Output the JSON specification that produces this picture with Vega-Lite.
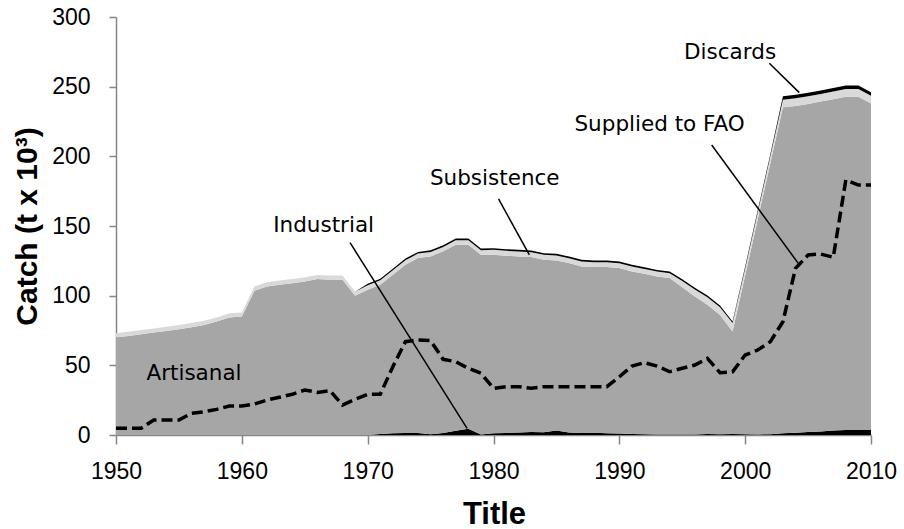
{
  "$schema": "https://vega.github.io/schema/vega-lite/v6.json",
  "width": 755,
  "height": 418,
  "autosize": {"type": "none"},
  "padding": {"left": 116, "top": 17, "right": 33, "bottom": 94},
  "background": "white",
  "config": {"view": {"stroke": null}, "font": "Liberation Sans"},
  "datasets": {
    "catch": [
      {"year": 1950, "c1": 0, "c2": 70.1, "c3": 3, "c4": 0, "fao": 4.8},
      {"year": 1951, "c1": 0, "c2": 71.1, "c3": 3, "c4": 0, "fao": 4.8},
      {"year": 1952, "c1": 0, "c2": 72.3, "c3": 3, "c4": 0, "fao": 4.8},
      {"year": 1953, "c1": 0, "c2": 73.5, "c3": 3, "c4": 0, "fao": 10.8},
      {"year": 1954, "c1": 0, "c2": 74.7, "c3": 3, "c4": 0, "fao": 10.8},
      {"year": 1955, "c1": 0, "c2": 75.9, "c3": 3, "c4": 0, "fao": 10.8},
      {"year": 1956, "c1": 0, "c2": 77.3, "c3": 3, "c4": 0, "fao": 15.6},
      {"year": 1957, "c1": 0, "c2": 79.0, "c3": 3, "c4": 0, "fao": 16.7},
      {"year": 1958, "c1": 0, "c2": 81.4, "c3": 3, "c4": 0, "fao": 18.4},
      {"year": 1959, "c1": 0, "c2": 84.3, "c3": 3, "c4": 0, "fao": 20.8},
      {"year": 1960, "c1": 0, "c2": 85.0, "c3": 3, "c4": 0, "fao": 20.8},
      {"year": 1961, "c1": 0, "c2": 103.5, "c3": 3, "c4": 0, "fao": 22.2},
      {"year": 1962, "c1": 0, "c2": 106.6, "c3": 3, "c4": 0, "fao": 25.1},
      {"year": 1963, "c1": 0, "c2": 107.8, "c3": 3, "c4": 0, "fao": 27.1},
      {"year": 1964, "c1": 0, "c2": 109.0, "c3": 3, "c4": 0, "fao": 29.2},
      {"year": 1965, "c1": 0, "c2": 110.2, "c3": 3, "c4": 0, "fao": 32.3},
      {"year": 1966, "c1": 0, "c2": 111.9, "c3": 3, "c4": 0, "fao": 30.6},
      {"year": 1967, "c1": 0, "c2": 111.4, "c3": 3, "c4": 0, "fao": 31.8},
      {"year": 1968, "c1": 0, "c2": 111.4, "c3": 3, "c4": 0, "fao": 21.5},
      {"year": 1969, "c1": 0, "c2": 99.9, "c3": 3, "c4": 0, "fao": 25.6},
      {"year": 1970, "c1": 0, "c2": 104.2, "c3": 3.2, "c4": 1.2, "fao": 29.2},
      {"year": 1971, "c1": 0.8, "c2": 107.0, "c3": 3.2, "c4": 1.2, "fao": 29.2},
      {"year": 1972, "c1": 1.3, "c2": 113.7, "c3": 3.2, "c4": 1.2, "fao": 49.0},
      {"year": 1973, "c1": 1.5, "c2": 120.7, "c3": 3.2, "c4": 1.2, "fao": 67.0},
      {"year": 1974, "c1": 1.5, "c2": 125.5, "c3": 3.2, "c4": 1.2, "fao": 68.2},
      {"year": 1975, "c1": 0.6, "c2": 127.6, "c3": 3.2, "c4": 1.2, "fao": 67.7},
      {"year": 1976, "c1": 1.5, "c2": 130.3, "c3": 3.2, "c4": 1.2, "fao": 54.3},
      {"year": 1977, "c1": 3.0, "c2": 133.6, "c3": 3.2, "c4": 1.2, "fao": 52.6},
      {"year": 1978, "c1": 4.5, "c2": 132.1, "c3": 3.2, "c4": 1.2, "fao": 47.9},
      {"year": 1979, "c1": 0.3, "c2": 129.1, "c3": 3.2, "c4": 1.2, "fao": 44.3},
      {"year": 1980, "c1": 1.2, "c2": 128.2, "c3": 3.5, "c4": 1.2, "fao": 33.5},
      {"year": 1981, "c1": 1.5, "c2": 127.2, "c3": 3.5, "c4": 1.2, "fao": 34.7},
      {"year": 1982, "c1": 1.8, "c2": 126.4, "c3": 3.5, "c4": 1.2, "fao": 34.7},
      {"year": 1983, "c1": 2.2, "c2": 125.5, "c3": 3.5, "c4": 1.2, "fao": 33.5},
      {"year": 1984, "c1": 2.0, "c2": 123.8, "c3": 3.5, "c4": 1.2, "fao": 34.7},
      {"year": 1985, "c1": 3.2, "c2": 122.1, "c3": 3.5, "c4": 1.2, "fao": 34.7},
      {"year": 1986, "c1": 1.8, "c2": 121.6, "c3": 3.5, "c4": 1.2, "fao": 34.7},
      {"year": 1987, "c1": 1.5, "c2": 119.5, "c3": 3.5, "c4": 1.2, "fao": 34.7},
      {"year": 1988, "c1": 1.6, "c2": 118.9, "c3": 3.5, "c4": 1.2, "fao": 34.7},
      {"year": 1989, "c1": 1.2, "c2": 119.3, "c3": 3.5, "c4": 1.2, "fao": 34.7},
      {"year": 1990, "c1": 1.0, "c2": 118.8, "c3": 3.5, "c4": 1.2, "fao": 41.8},
      {"year": 1991, "c1": 0.7, "c2": 116.7, "c3": 3.5, "c4": 1.2, "fao": 49.5},
      {"year": 1992, "c1": 0.5, "c2": 115.2, "c3": 3.5, "c4": 1.2, "fao": 51.9},
      {"year": 1993, "c1": 0.4, "c2": 113.4, "c3": 3.5, "c4": 1.2, "fao": 49.5},
      {"year": 1994, "c1": 0.3, "c2": 112.3, "c3": 3.5, "c4": 1.2, "fao": 45.4},
      {"year": 1995, "c1": 0.3, "c2": 105.8, "c3": 4.5, "c4": 1.2, "fao": 47.9},
      {"year": 1996, "c1": 0.4, "c2": 99.0, "c3": 5.0, "c4": 1.2, "fao": 50.2},
      {"year": 1997, "c1": 0.8, "c2": 92.6, "c3": 5.5, "c4": 1.2, "fao": 55.0},
      {"year": 1998, "c1": 0.6, "c2": 85.6, "c3": 5.5, "c4": 1.2, "fao": 44.7},
      {"year": 1999, "c1": 0.8, "c2": 73.5, "c3": 6.0, "c4": 1.2, "fao": 45.4},
      {"year": 2000, "c1": 0.5, "c2": 114.0, "c3": 5.0, "c4": 1.5, "fao": 57.4},
      {"year": 2001, "c1": 0.4, "c2": 154.4, "c3": 5.0, "c4": 1.5, "fao": 61.0},
      {"year": 2002, "c1": 0.6, "c2": 194.4, "c3": 5.0, "c4": 1.5, "fao": 67.0},
      {"year": 2003, "c1": 1.2, "c2": 234.0, "c3": 5.5, "c4": 2.5, "fao": 81.3},
      {"year": 2004, "c1": 1.6, "c2": 234.6, "c3": 5.5, "c4": 2.5, "fao": 119.6},
      {"year": 2005, "c1": 2.2, "c2": 235.4, "c3": 5.5, "c4": 2.5, "fao": 129.2},
      {"year": 2006, "c1": 2.6, "c2": 236.7, "c3": 5.5, "c4": 2.5, "fao": 129.9},
      {"year": 2007, "c1": 3.2, "c2": 237.8, "c3": 5.5, "c4": 2.5, "fao": 127.5},
      {"year": 2008, "c1": 3.6, "c2": 239.2, "c3": 5.5, "c4": 2.5, "fao": 183.0},
      {"year": 2009, "c1": 3.6, "c2": 239.2, "c3": 5.5, "c4": 2.5, "fao": 179.4},
      {"year": 2010, "c1": 3.6, "c2": 234.4, "c3": 5.5, "c4": 2.5, "fao": 179.4}
    ],
    "labels": [
      {"label": "Artisanal", "tx": 1956.2, "ty": 39.5},
      {"label": "Industrial", "tx": 1966.5, "ty": 145.9},
      {"label": "Subsistence", "tx": 1980.1, "ty": 179.4},
      {"label": "Supplied to FAO", "tx": 1993.2, "ty": 218.4},
      {"label": "Discards", "tx": 1998.8, "ty": 269.6}
    ],
    "leaders": [
      {"label": "Industrial", "x1": 1968.6, "y1": 138, "x2": 1977.9, "y2": 4.8},
      {"label": "Subsistence", "x1": 1980.4, "y1": 169.4, "x2": 1982.85, "y2": 129.2},
      {"label": "Supplied to FAO", "x1": 1997.34, "y1": 208.1, "x2": 2004.22, "y2": 123.2},
      {"label": "Discards", "x1": 2001.92, "y1": 266.8, "x2": 2004.3, "y2": 245.7}
    ]
  },
  "layer": [
    {
      "data": {"name": "catch"},
      "transform": [{"fold": ["c1", "c2", "c3", "c4"], "as": ["key", "val"]}],
      "mark": {"type": "area", "interpolate": "linear"},
      "encoding": {
        "x": {
          "field": "year", "type": "quantitative",
          "scale": {"domain": [1950, 2010], "nice": false, "zero": false},
          "axis": {
            "values": [1950, 1960, 1970, 1980, 1990, 2000, 2010],
            "format": "d", "grid": false,
            "domainColor": "#868686", "domainWidth": 1.5,
            "tickColor": "#868686", "tickSize": 9, "tickWidth": 1.5,
            "labelFont": "Liberation Sans", "labelFontSize": 23, "labelColor": "#000000",
            "labelBaseline": "alphabetic", "labelPadding": 34, "labelFlush": false,
            "title": "Title", "titleFont": "Liberation Sans", "titleFontSize": 31,
            "titleFontWeight": "bold", "titleColor": "#000000",
            "titleX": 378, "titleY": 88, "titleAlign": "center", "titleBaseline": "alphabetic"
          }
        },
        "y": {
          "field": "val", "type": "quantitative", "stack": "zero",
          "scale": {"domain": [0, 300], "nice": false},
          "axis": {
            "values": [0, 50, 100, 150, 200, 250, 300],
            "grid": false,
            "domainColor": "#868686", "domainWidth": 1.5,
            "tickColor": "#868686", "tickSize": 7, "tickWidth": 1.5,
            "labelFont": "Liberation Sans", "labelFontSize": 23, "labelColor": "#000000",
            "labelPadding": 19,
            "title": "Catch (t x 10³)", "titleFont": "Liberation Sans", "titleFontSize": 30,
            "titleFontWeight": "bold", "titleColor": "#000000",
            "titleX": -80, "titleY": 209, "titleAlign": "center", "titleBaseline": "alphabetic", "titleAngle": -90
          }
        },
        "color": {
          "field": "key", "type": "nominal",
          "scale": {"domain": ["c1", "c2", "c3", "c4"], "range": ["#000000", "#a6a6a6", "#d9d9d9", "#000000"]},
          "legend": null
        },
        "order": {"field": "key", "sort": "ascending"}
      }
    },
    {
      "data": {"name": "catch"},
      "mark": {"type": "line", "color": "#000000", "strokeWidth": 3.5, "strokeDash": [11, 5]},
      "encoding": {
        "x": {"field": "year", "type": "quantitative"},
        "y": {"field": "fao", "type": "quantitative"}
      }
    },
    {
      "data": {"name": "leaders"},
      "mark": {"type": "rule", "color": "#000000", "strokeWidth": 1.5},
      "encoding": {
        "x": {"field": "x1", "type": "quantitative"},
        "y": {"field": "y1", "type": "quantitative"},
        "x2": {"field": "x2"},
        "y2": {"field": "y2"}
      }
    },
    {
      "data": {"name": "labels"},
      "mark": {"type": "text", "font": "DejaVu Sans", "fontSize": 21.5, "baseline": "alphabetic", "align": "center", "color": "#000000"},
      "encoding": {
        "x": {"field": "tx", "type": "quantitative"},
        "y": {"field": "ty", "type": "quantitative"},
        "text": {"field": "label"}
      }
    }
  ]
}
